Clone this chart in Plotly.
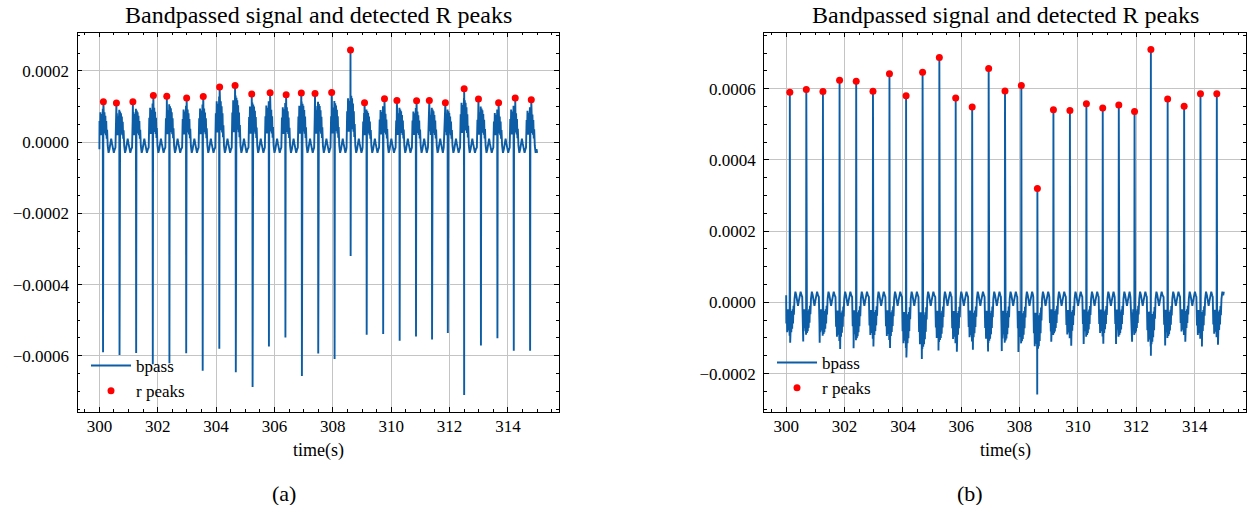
import plotly.graph_objects as go

# ---------------- data ----------------
# R-peak (spike) times, s
spike_t = [300.125, 300.69, 301.26, 301.83, 302.40, 302.975, 303.54, 304.11, 304.675,
           305.25, 305.81, 306.375, 306.94, 307.50, 308.06, 308.61, 309.16, 309.725,
           310.29, 310.85, 311.40, 311.94, 312.50, 313.075, 313.64, 314.20, 314.76]
# R-peak heights in panel (b) (= depth of the negative spikes in panel (a))
spike_amp = [0.000590, 0.000598, 0.000592, 0.000624, 0.000621, 0.000593, 0.000642,
             0.000580, 0.000646, 0.000688, 0.000574, 0.000549, 0.000657, 0.000594,
             0.000609, 0.000320, 0.000541, 0.000539, 0.000558, 0.000546, 0.000554,
             0.000536, 0.000710, 0.000571, 0.000551, 0.000586, 0.000586]
# detected peaks in panel (a)
peakA_t = [300.137, 300.584, 301.148, 301.85, 302.31, 302.99, 303.56, 304.12, 304.65,
           305.22, 305.85, 306.40, 306.92, 307.39, 307.96, 308.605, 309.086, 309.77,
           310.196, 310.87, 311.306, 311.856, 312.50, 312.99, 313.68, 314.25, 314.80]
peakA_v = [1.135e-4, 1.10e-4, 1.135e-4, 1.31e-4, 1.29e-4, 1.24e-4, 1.28e-4, 1.55e-4,
           1.59e-4, 1.35e-4, 1.39e-4, 1.33e-4, 1.38e-4, 1.37e-4, 1.395e-4, 2.59e-4,
           1.107e-4, 1.22e-4, 1.17e-4, 1.163e-4, 1.17e-4, 1.107e-4, 1.50e-4, 1.21e-4,
           1.107e-4, 1.24e-4, 1.19e-4]
# shape of one beat of the bandpassed signal around its spike (offset s, value x1e-4)
beat_off = [-0.14, -0.12, -0.105, -0.09, -0.075, -0.06, -0.045, -0.03, -0.018, -0.008,
            0.01, 0.022, 0.035, 0.05, 0.065, 0.08, 0.095, 0.11, 0.125, 0.14,
            0.16, 0.19, 0.22, 0.25, 0.28, 0.31, 0.34, 0.37, 0.40]
beat_val = [-0.15, 0.6, 0.2, 0.85, 0.3, 0.75, 0.2, 0.8, 0.35, 0.95,
            0.4, 0.9, 0.25, 0.85, 0.35, 0.75, 0.2, 0.6, 0.1, 0.35,
            -0.1, -0.3, -0.2, 0.0, 0.1, -0.05, -0.25, -0.3, -0.2]
t_first, v_first = 300.0, -0.2e-4
t_last, v_last = 315.0, -0.3e-4

x_tickvals = [300, 302, 304, 306, 308, 310, 312, 314]
x_ticktext = ["300", "302", "304", "306", "308", "310", "312", "314"]
yA_tickvals = [-0.0006, -0.0004, -0.0002, 0.0, 0.0002]
yA_ticktext = ["\u22120.0006", "\u22120.0004", "\u22120.0002", "0.0000", "0.0002"]
yB_tickvals = [-0.0002, 0.0, 0.0002, 0.0004, 0.0006]
yB_ticktext = ["\u22120.0002", "0.0000", "0.0002", "0.0004", "0.0006"]

# ---------------- build the trace from the read values ----------------
pts = [(t_first, v_first), (t_last, v_last)]
n = len(spike_t)
for i, t0 in enumerate(spike_t):
    nxt = spike_t[i + 1] if i + 1 < n else 1e9
    k = min(peakA_v[i] / 1.15e-4, 1.45)   # cluster height follows the detected peak
    for off, val in zip(beat_off, beat_val):
        t = t0 + off
        if off > 0 and t >= nxt - 0.15:
            continue
        v = val * k if (val > 0 and abs(off) <= 0.14) else val
        if t_first < t < t_last:
            pts.append((t, v * 1e-4))
    pts.append((t0, -spike_amp[i]))
for t, v in zip(peakA_t, peakA_v):
    pts.append((t, v))
pts.sort()
sig_t = [p[0] for p in pts]
sig_a = [p[1] for p in pts]
sig_b = [-p[1] for p in pts]

# ---------------- figure ----------------
W, H = 1252, 505
BLUE = "#0C5DA5"
SERIF = "Liberation Serif, Times New Roman, serif"

def px(x):
    return x / W

def py(y):
    return 1 - y / H

fig = go.Figure()
fig.add_trace(go.Scatter(x=sig_t, y=sig_a, mode="lines", name="bpass",
                         line=dict(color=BLUE, width=1.9), xaxis="x", yaxis="y",
                         legend="legend"))
fig.add_trace(go.Scatter(x=peakA_t, y=peakA_v, mode="markers", name="r peaks",
                         marker=dict(color="red", size=7), xaxis="x", yaxis="y",
                         legend="legend"))
fig.add_trace(go.Scatter(x=sig_t, y=sig_b, mode="lines", name="bpass",
                         line=dict(color=BLUE, width=1.9), xaxis="x2", yaxis="y2",
                         legend="legend2"))
fig.add_trace(go.Scatter(x=spike_t, y=spike_amp, mode="markers", name="r peaks",
                         marker=dict(color="red", size=7), xaxis="x2", yaxis="y2",
                         legend="legend2"))

ydom = [py(412), py(32.5)]
common_x = dict(range=[299.25, 315.75], tickmode="array", tickvals=x_tickvals,
                ticktext=x_ticktext, ticks="inside", ticklen=4.5, tickwidth=1,
                tickcolor="black", showline=True, linecolor="black", linewidth=1.2,
                mirror="ticks", showgrid=True, gridcolor="#c4c4c4", gridwidth=1,
                zeroline=False, tickfont=dict(family=SERIF, size=17, color="black"),
                ticklabelstandoff=-2,
                minor=dict(tick0=300, dtick=0.5, ticks="inside", ticklen=2.5,
                           tickcolor="black", tickwidth=1, showgrid=False))
common_y = dict(ticks="inside", ticklen=4.5, tickwidth=1, tickcolor="black",
                showline=True, linecolor="black", linewidth=1.2, mirror="ticks",
                showgrid=True, gridcolor="#c4c4c4", gridwidth=1, zeroline=False,
                tickfont=dict(family=SERIF, size=17, color="black"),
                ticklabelstandoff=4, tickmode="array",
                minor=dict(tick0=0, dtick=0.00005, ticks="inside", ticklen=2.5,
                           tickcolor="black", tickwidth=1, showgrid=False))

leg_common = dict(xanchor="left", yanchor="top", bgcolor="rgba(0,0,0,0)",
                  font=dict(family=SERIF, size=17, color="black"),
                  tracegroupgap=0, itemwidth=40)
fig.update_layout(
    width=W, height=H, margin=dict(l=0, r=0, t=0, b=0),
    paper_bgcolor="white", plot_bgcolor="white",
    xaxis=dict(domain=[px(77.5), px(559)], anchor="y", **common_x),
    yaxis=dict(domain=ydom, anchor="x", range=[-0.000758, 0.000308],
               tickvals=yA_tickvals, ticktext=yA_ticktext, **common_y),
    xaxis2=dict(domain=[px(764.3), px(1245.7)], anchor="y2", **common_x),
    yaxis2=dict(domain=ydom, anchor="x2", range=[-0.000308, 0.000758],
                tickvals=yB_tickvals, ticktext=yB_ticktext, **common_y),
    legend=dict(x=px(86), y=py(348), **leg_common),
    legend2=dict(x=px(772), y=py(345), **leg_common),
    showlegend=True,
)

title = "Bandpassed signal and detected R peaks"
ann = [
    dict(text=title, x=px(318), y=py(15), size=24),
    dict(text=title, x=px(1005), y=py(15), size=24),
    dict(text="time(s)", x=px(318.5), y=py(450), size=18),
    dict(text="time(s)", x=px(1005), y=py(450), size=18),
    dict(text="(a)", x=px(284), y=py(493), size=22),
    dict(text="(b)", x=px(970), y=py(493), size=22),
]
for a in ann:
    fig.add_annotation(text=a["text"], x=a["x"], y=a["y"], xref="paper", yref="paper",
                       xanchor="center", yanchor="middle", showarrow=False,
                       font=dict(family=SERIF, size=a["size"], color="black"))

fig.write_html("out.html", config={"displayModeBar": False},
               post_script="document.body.style.margin='0';")
